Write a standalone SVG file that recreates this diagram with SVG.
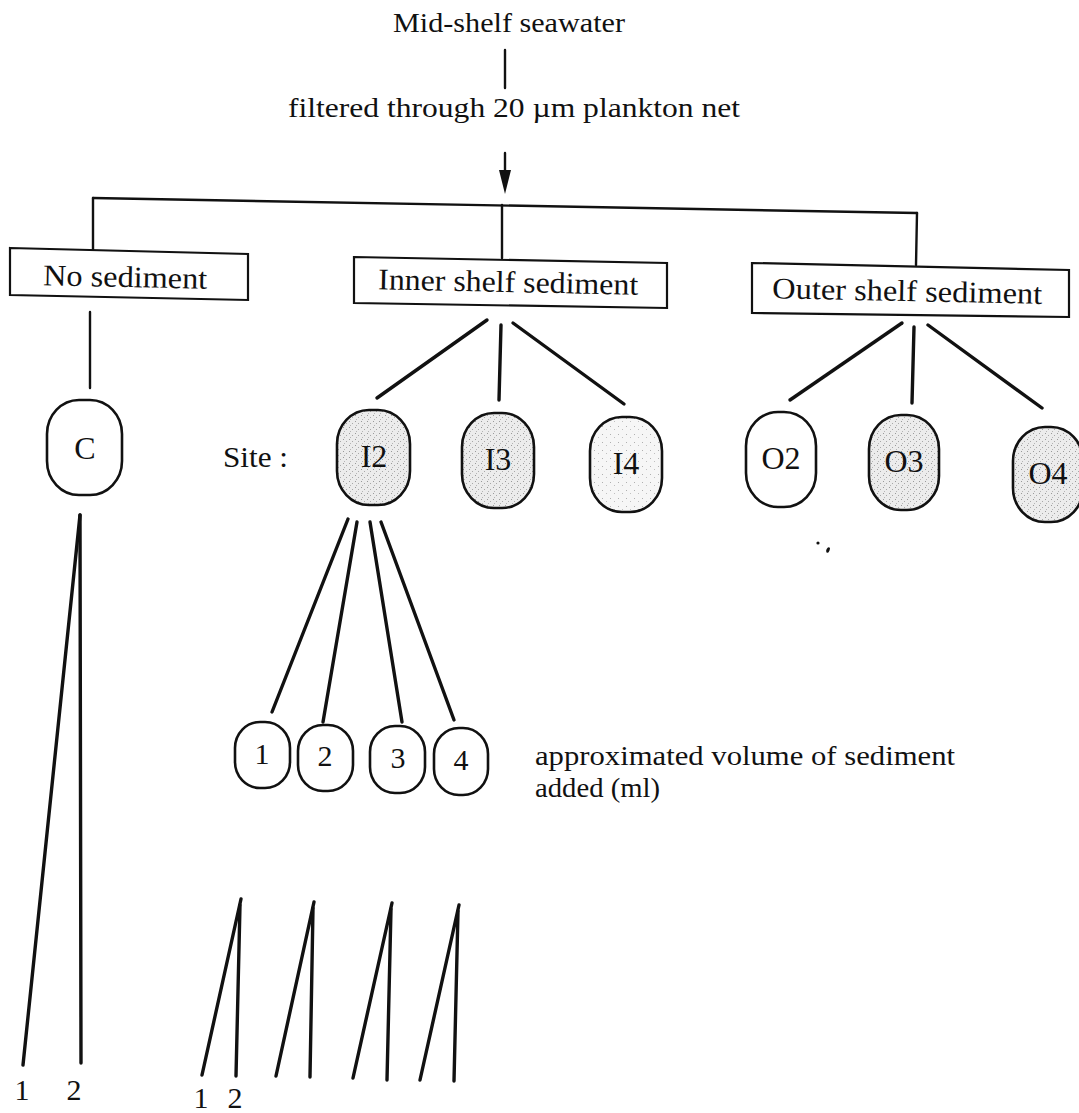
<svg xmlns="http://www.w3.org/2000/svg" width="1079" height="1113" viewBox="0 0 1079 1113">
<style>
text{font-family:"Liberation Serif","Times New Roman",serif;fill:#111}
.t27{font-size:27px}
.t30{font-size:30px}
.t32{font-size:32px}
.cap{font-size:27px}
.box{fill:#fff;stroke:#111;stroke-width:2.2}
.node{stroke:#111;stroke-width:2.6}
.heavy{fill:url(#stipple)}
.light{fill:url(#stippleLight)}
.plain{fill:#fff}
.ln{stroke:#111;stroke-width:3.4;stroke-linecap:round;fill:none}
.thin{stroke:#111;stroke-width:2.4;stroke-linecap:round;fill:none}
</style>
<defs>
<pattern id="stipple" width="6" height="6" patternUnits="userSpaceOnUse">
<rect width="6" height="6" fill="#ececec"/>
<rect x="1" y="1" width="1" height="1" fill="#9a9a9a"/>
<rect x="4" y="3" width="1" height="1" fill="#a8a8a8"/>
<rect x="2" y="5" width="1" height="1" fill="#b5b5b5"/>
</pattern>
<pattern id="stippleLight" width="8" height="8" patternUnits="userSpaceOnUse">
<rect width="8" height="8" fill="#f6f6f6"/>
<rect x="2" y="2" width="1" height="1" fill="#b0b0b0"/>
<rect x="6" y="5" width="1" height="1" fill="#c0c0c0"/>
</pattern>
</defs>
<rect width="1079" height="1113" fill="#fff"/>

<g id="title">
<text class="t27" x="393" y="32" textLength="232" lengthAdjust="spacingAndGlyphs">Mid-shelf seawater</text>
</g>
<g id="filter">
<text class="t27" x="288" y="117" textLength="452" lengthAdjust="spacingAndGlyphs">filtered through 20 µm plankton net</text>
</g>

<g id="connectors">
<line class="thin" x1="505" y1="50" x2="505" y2="88"/>
<line class="thin" x1="505" y1="153" x2="505" y2="172"/>
<polygon points="499,170 511,170 505,194" fill="#111"/>
<line class="thin" x1="93" y1="198" x2="917" y2="213"/>
<line class="thin" x1="93" y1="198" x2="93" y2="250"/>
<line class="thin" x1="502" y1="205" x2="502" y2="258"/>
<line class="thin" x1="917" y1="213" x2="916" y2="265"/>
<line class="thin" x1="90" y1="312" x2="90" y2="388"/>
<line class="ln" x1="487" y1="320" x2="377" y2="398"/>
<line class="ln" x1="501" y1="325" x2="499" y2="400"/>
<line class="ln" x1="513" y1="323" x2="624" y2="404"/>
<line class="ln" x1="902" y1="323" x2="790" y2="400"/>
<line class="ln" x1="914" y1="327" x2="912" y2="403"/>
<line class="ln" x1="928" y1="325" x2="1042" y2="408"/>
<line class="ln" x1="348" y1="519" x2="272" y2="712"/>
<line class="ln" x1="357" y1="522" x2="323" y2="722"/>
<line class="ln" x1="370" y1="522" x2="402" y2="722"/>
<line class="ln" x1="381" y1="522" x2="454" y2="720"/>
<line class="ln" x1="80" y1="515" x2="23" y2="1065"/>
<line class="ln" x1="80" y1="515" x2="81" y2="1063"/>
<line class="ln" x1="241" y1="899" x2="202" y2="1075"/>
<line class="ln" x1="240" y1="905" x2="236" y2="1076"/>
<line class="ln" x1="314" y1="902" x2="276" y2="1076"/>
<line class="ln" x1="313" y1="908" x2="310" y2="1077"/>
<line class="ln" x1="392" y1="903" x2="353" y2="1078"/>
<line class="ln" x1="391" y1="909" x2="387" y2="1080"/>
<line class="ln" x1="459" y1="905" x2="420" y2="1080"/>
<line class="ln" x1="458" y1="911" x2="454" y2="1081"/>
</g>

<g id="no-sediment">
<polygon class="box" points="10,248 248,254 248,300 10,295"/>
<text class="t30" x="125" y="287" text-anchor="middle" textLength="164" lengthAdjust="spacingAndGlyphs" transform="rotate(1.2 125 287)">No sediment</text>
</g>
<g id="inner-shelf">
<polygon class="box" points="354,257 667,263 667,308 354,303"/>
<text class="t30" x="508" y="292" text-anchor="middle" textLength="260" lengthAdjust="spacingAndGlyphs" transform="rotate(1.2 508 292)">Inner shelf sediment</text>
</g>
<g id="outer-shelf">
<polygon class="box" points="752,263 1069,270 1069,317 752,313"/>
<text class="t30" x="907" y="301" text-anchor="middle" textLength="270" lengthAdjust="spacingAndGlyphs" transform="rotate(1.2 907 301)">Outer shelf sediment</text>
</g>

<g id="node-C">
<rect class="node plain" x="47" y="400" width="75" height="95" rx="32" ry="34"/>
<text class="t32" x="85" y="459" text-anchor="middle">C</text>
</g>
<g id="site-label">
<text class="t30" x="223" y="467" textLength="65" lengthAdjust="spacingAndGlyphs">Site :</text>
</g>
<g id="node-I2">
<rect class="node heavy" x="337" y="410" width="73" height="95" rx="32" ry="34"/>
<text class="t32" x="374" y="467" text-anchor="middle">I2</text>
</g>
<g id="node-I3">
<rect class="node heavy" x="462" y="413" width="72" height="95" rx="32" ry="34"/>
<text class="t32" x="498" y="470" text-anchor="middle">I3</text>
</g>
<g id="node-I4">
<rect class="node light" x="590" y="417" width="72" height="95" rx="32" ry="34"/>
<text class="t32" x="626" y="474" text-anchor="middle">I4</text>
</g>
<g id="node-O2">
<rect class="node plain" x="746" y="412" width="70" height="95" rx="32" ry="34"/>
<text class="t32" x="781" y="469" text-anchor="middle">O2</text>
</g>
<g id="node-O3">
<rect class="node heavy" x="869" y="415" width="70" height="95" rx="32" ry="34"/>
<text class="t32" x="904" y="472" text-anchor="middle">O3</text>
</g>
<g id="node-O4">
<rect class="node heavy" x="1013" y="427" width="70" height="95" rx="32" ry="34"/>
<text class="t32" x="1048" y="484" text-anchor="middle">O4</text>
</g>

<g id="vol-1">
<rect class="node plain" x="235" y="722" width="55" height="66" rx="25" ry="26"/>
<text class="t30" x="262" y="764" text-anchor="middle">1</text>
</g>
<g id="vol-2">
<rect class="node plain" x="298" y="725" width="55" height="66" rx="25" ry="26"/>
<text class="t30" x="325" y="766" text-anchor="middle">2</text>
</g>
<g id="vol-3">
<rect class="node plain" x="370" y="726" width="55" height="67" rx="25" ry="26"/>
<text class="t30" x="398" y="768" text-anchor="middle">3</text>
</g>
<g id="vol-4">
<rect class="node plain" x="434" y="728" width="54" height="67" rx="25" ry="26"/>
<text class="t30" x="461" y="770" text-anchor="middle">4</text>
</g>

<g id="vol-caption">
<text class="cap" x="535" y="765" textLength="420" lengthAdjust="spacingAndGlyphs">approximated volume of sediment</text>
<text class="cap" x="535" y="797" textLength="125" lengthAdjust="spacingAndGlyphs">added (ml)</text>
</g>

<g id="reps-C">
<text class="t30" x="22" y="1100" text-anchor="middle">1</text>
<text class="t30" x="74" y="1100" text-anchor="middle">2</text>
</g>
<g id="reps-vol">
<text class="t30" x="201" y="1108" text-anchor="middle">1</text>
<text class="t30" x="235" y="1108" text-anchor="middle">2</text>
</g>

<g id="specks">
<circle cx="818" cy="543" r="1.6" fill="#111"/>
<ellipse cx="828" cy="550" rx="1.6" ry="3" fill="#111" transform="rotate(25 828 550)"/>
</g>
</svg>
